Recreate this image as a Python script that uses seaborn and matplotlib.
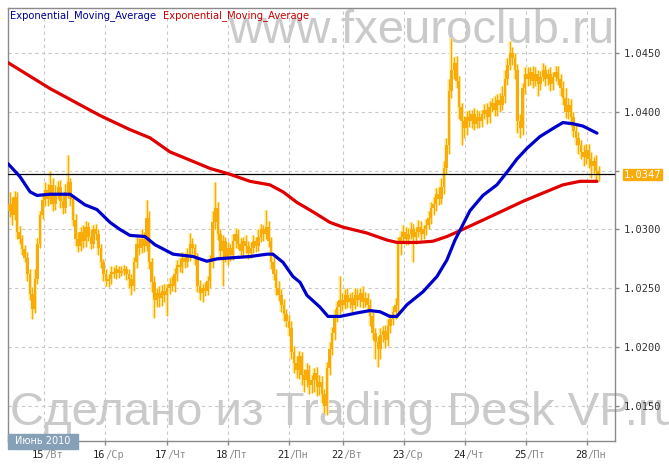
import numpy as np
import pandas as pd
import seaborn as sns
import matplotlib.pyplot as plt
from matplotlib.patches import Rectangle

# hourly closes, 14-28 June 2010 (one candle per hour)
close = [
    1.0322, 1.0312, 1.0328, 1.0298, 1.0292, 1.0283, 1.0276, 1.0262, 1.0245, 1.0232, 1.0258, 1.0288,
    1.0312, 1.0325, 1.0334, 1.0326, 1.0338, 1.0322, 1.0330, 1.0336, 1.0324, 1.0318, 1.0332, 1.0340,
    1.0326, 1.0308, 1.0292, 1.0286, 1.0298, 1.0290, 1.0302, 1.0294, 1.0288, 1.0300, 1.0296, 1.0284,
    1.0272, 1.0262, 1.0256, 1.0258, 1.0264, 1.0262, 1.0266, 1.0263, 1.0265, 1.0266, 1.0262, 1.0258,
    1.0252, 1.0272, 1.0288, 1.0284, 1.0292, 1.0286, 1.0310, 1.0272, 1.0255, 1.0240, 1.0246, 1.0242,
    1.0248, 1.0244, 1.0250, 1.0254, 1.0252, 1.0262, 1.0270, 1.0268, 1.0276, 1.0272, 1.0278, 1.0288,
    1.0284, 1.0276, 1.0252, 1.0246, 1.0250, 1.0248, 1.0256, 1.0272, 1.0306, 1.0318, 1.0296, 1.0282,
    1.0290, 1.0276, 1.0284, 1.0278, 1.0290, 1.0296, 1.0288, 1.0282, 1.0290, 1.0286, 1.0280, 1.0284,
    1.0290, 1.0286, 1.0294, 1.0300, 1.0296, 1.0302, 1.0290, 1.0272, 1.0262, 1.0250, 1.0244, 1.0236,
    1.0228, 1.0222, 1.0216, 1.0196, 1.0186, 1.0180, 1.0192, 1.0176, 1.0172, 1.0180, 1.0168, 1.0172,
    1.0178, 1.0166, 1.0170, 1.0160, 1.0150, 1.0182, 1.0198, 1.0212, 1.0226, 1.0234, 1.0240, 1.0236,
    1.0244, 1.0238, 1.0242, 1.0236, 1.0244, 1.0240, 1.0246, 1.0238, 1.0242, 1.0236, 1.0226, 1.0212,
    1.0204, 1.0198, 1.0210, 1.0214, 1.0206, 1.0218, 1.0224, 1.0230, 1.0236, 1.0288, 1.0294, 1.0298,
    1.0292, 1.0296, 1.0300, 1.0294, 1.0298, 1.0302, 1.0296, 1.0300, 1.0304, 1.0310, 1.0318, 1.0322,
    1.0330, 1.0326, 1.0336, 1.0352, 1.0372, 1.0418, 1.0436, 1.0442, 1.0426, 1.0404, 1.0392, 1.0386,
    1.0396, 1.0392, 1.0398, 1.0390, 1.0396, 1.0392, 1.0398, 1.0402, 1.0396, 1.0404, 1.0408, 1.0402,
    1.0410, 1.0406, 1.0414, 1.0428, 1.0440, 1.0450, 1.0446, 1.0436, 1.0392, 1.0386, 1.0420, 1.0432,
    1.0428, 1.0434, 1.0426, 1.0432, 1.0424, 1.0430, 1.0436, 1.0428, 1.0432, 1.0424, 1.0430, 1.0434,
    1.0428, 1.0420, 1.0412, 1.0400, 1.0406, 1.0396, 1.0384, 1.0378, 1.0372, 1.0366, 1.0362, 1.0368,
    1.0360, 1.0354, 1.0358, 1.0350, 1.0347,
]
first_open = 1.0316

# wick lengths in pips above / below the candle body
wick_up = [
    10, 6, 5, 4, 5, 3, 4, 5, 4, 6, 8, 5,
    4, 5, 6, 5, 12, 6, 8, 5, 6, 5, 7, 23,
    4, 3, 5, 6, 4, 6, 5, 4, 6, 4, 5, 4,
    4, 3, 4, 4, 5, 4, 4, 3, 4, 4, 3, 4,
    4, 5, 6, 5, 8, 6, 15, 6, 4, 5, 4, 6,
    5, 6, 4, 5, 6, 5, 4, 6, 5, 4, 6, 9,
    5, 4, 4, 5, 4, 5, 4, 6, 10, 22, 5, 4,
    5, 4, 5, 4, 6, 5, 4, 5, 4, 5, 4, 5,
    5, 4, 6, 5, 4, 15, 5, 4, 5, 4, 6, 5,
    5, 4, 5, 6, 5, 6, 5, 4, 5, 6, 5, 4,
    4, 5, 6, 5, 4, 5, 6, 5, 6, 5, 20, 6,
    5, 6, 4, 5, 6, 5, 4, 6, 5, 4, 5, 4,
    4, 5, 6, 4, 5, 6, 4, 5, 6, 6, 5, 6,
    4, 5, 6, 5, 4, 6, 5, 4, 5, 6, 5, 6,
    5, 6, 8, 6, 6, 10, 27, 5, 6, 5, 4, 5,
    5, 6, 4, 5, 6, 5, 4, 5, 6, 5, 4, 6,
    5, 6, 8, 8, 6, 10, 5, 4, 5, 6, 5, 6,
    6, 4, 5, 6, 4, 5, 6, 4, 5, 6, 4, 5,
    5, 4, 6, 8, 6, 5, 4, 6, 5, 4, 6, 5,
    5, 6, 4, 5, 4,
]
wick_dn = [
    5, 8, 4, 6, 4, 5, 4, 6, 5, 8, 3, 4,
    4, 3, 5, 6, 4, 6, 5, 4, 6, 5, 4, 5,
    6, 5, 6, 5, 4, 6, 5, 4, 5, 4, 5, 6,
    5, 6, 4, 5, 4, 3, 4, 4, 3, 4, 5, 8,
    8, 4, 5, 6, 4, 5, 4, 6, 8, 15, 6, 8,
    7, 6, 18, 5, 4, 5, 6, 4, 5, 5, 4, 5,
    5, 6, 5, 6, 8, 5, 4, 6, 5, 6, 5, 6,
    30, 4, 6, 5, 4, 6, 5, 4, 5, 6, 5, 4,
    4, 5, 4, 5, 6, 4, 5, 6, 5, 6, 5, 6,
    6, 5, 7, 6, 8, 6, 7, 8, 10, 6, 8, 7,
    10, 8, 7, 8, 6, 8, 6, 5, 6, 5, 6, 5,
    4, 5, 5, 6, 4, 5, 6, 5, 4, 6, 8, 6,
    14, 15, 8, 6, 7, 5, 6, 5, 6, 6, 10, 5,
    5, 5, 4, 22, 6, 4, 5, 4, 5, 4, 5, 6,
    6, 5, 4, 6, 5, 8, 6, 8, 6, 10, 20, 8,
    6, 5, 6, 5, 4, 6, 5, 4, 6, 5, 4, 5,
    5, 6, 4, 6, 5, 4, 6, 8, 10, 8, 6, 5,
    6, 5, 6, 4, 10, 5, 4, 6, 5, 6, 5, 4,
    5, 6, 6, 5, 6, 8, 5, 6, 8, 6, 8, 6,
    8, 10, 6, 8, 6,
]

# the two moving averages (hour, value)
ema_fast_h = [0, 4.7, 8.7, 11.4, 16.5, 24.4, 26.4, 30.3, 35, 40.2, 44.1, 48, 53.9, 57.9, 65,
              72.8, 78.3, 82.3, 88.6, 95.3, 102, 104.3, 108.3, 112.2, 115, 117.7, 122.8, 126,
              130.7, 137.4, 142.5, 146.5, 150.4, 153.1, 157.1, 163.4, 168.9, 172.8, 176, 181.9,
              187, 192.5, 196.9, 200.4, 204.3, 209.4, 214.6, 218.5, 222.4, 226.4, 231.9]
ema_fast = [1.0356, 1.0345, 1.0332, 1.0329, 1.0330, 1.0330, 1.0327, 1.0321, 1.0317, 1.0306,
            1.0300, 1.0295, 1.0294, 1.0287, 1.0279, 1.0277, 1.0273, 1.0275, 1.0276, 1.0277,
            1.0279, 1.0279, 1.0272, 1.0260, 1.0255, 1.0244, 1.0234, 1.0226, 1.0226, 1.0229,
            1.0231, 1.0230, 1.0226, 1.0226, 1.0236, 1.0247, 1.0260, 1.0274, 1.0291, 1.0316,
            1.0329, 1.0338, 1.0350, 1.0360, 1.0369, 1.0379, 1.0386, 1.0391, 1.0390, 1.0388,
            1.0382]

ema_slow_h = [0, 16.5, 36.2, 48, 55.9, 63.8, 71.7, 79.5, 87.4, 95.3, 103.1, 108.3, 113.8,
              120.1, 126.8, 131.9, 141.3, 149.2, 153.1, 161, 167.3, 172.8, 178, 187, 194.9,
              202.8, 210.6, 218.5, 225.2, 231.9]
ema_slow = [1.0442, 1.0420, 1.0397, 1.0385, 1.0378, 1.0366, 1.0359, 1.0352, 1.0347, 1.0341,
            1.0338, 1.0332, 1.0323, 1.0315, 1.0306, 1.0302, 1.0297, 1.0291, 1.0289, 1.0289,
            1.0290, 1.0294, 1.0299, 1.0308, 1.0316, 1.0324, 1.0331, 1.0338, 1.0341, 1.0341]

last_price = 1.0347
y_ticks = [1.0150, 1.0200, 1.0250, 1.0300, 1.0350, 1.0400, 1.0450]
y_labels = ['1.0150', '1.0200', '1.0250', '1.0300', '', '1.0400', '1.0450']

day_ticks = [14, 38, 62.5, 86.5, 110.5, 132, 156, 180, 204, 228]
day_num = ['15', '16', '17', '18', '21', '22', '23', '24', '25', '28']
day_name = ['Вт', 'Ср', 'Чт', 'Пт', 'Пн', 'Вт', 'Ср', 'Чт', 'Пт', 'Пн']

sns.set_style('white')
W, H = 669, 471
fig = plt.figure(figsize=(W / 100, H / 100), dpi=100)
ax = fig.add_axes([8 / W, 1 - 441 / H, 607 / W, 433 / H])

# watermarks (behind the data)
ax.text(228 / W, 1 - 43 / H, 'www.fxeuroclub.ru', transform=fig.transFigure,
        family='Liberation Sans', fontsize=34, color='#cacaca', ha='left',
        va='baseline', zorder=0.5, clip_on=False)
ax.text(10 / W, 1 - 425 / H, 'Сделано из Trading Desk VP.ru', transform=fig.transFigure,
        family='Liberation Sans', fontsize=34, color='#cacaca', ha='left',
        va='baseline', zorder=0.5, clip_on=False)

# candles
xs = np.arange(len(close)) + 0.6
closes = np.array(close)
opens = np.array([first_open] + close[:-1])
top = np.maximum(opens, closes)
bot = np.minimum(opens, closes)
high = top + np.array(wick_up) / 10000
low = bot - np.array(wick_dn) / 10000
body = np.maximum(top - bot, 0.00005)

halo = '#fff2b0'
orange = '#f9ab0a'
ax.vlines(xs, low, high, color=halo, lw=2.6, zorder=2)
ax.bar(xs, body + 0.0001, bottom=bot - 0.00005, width=1.5, color=halo, lw=0, zorder=2)
ax.vlines(xs, low, high, color=orange, lw=1.0, zorder=3)
ax.bar(xs, body, bottom=bot, width=1.0, color=orange, lw=0, zorder=3)

ax.axhline(last_price, color='black', lw=0.9, zorder=4)

fast_df = pd.DataFrame({'hour': ema_fast_h, 'value': ema_fast})
slow_df = pd.DataFrame({'hour': ema_slow_h, 'value': ema_slow})
sns.lineplot(data=slow_df, x='hour', y='value', color='#e00000', lw=2.3, ax=ax, zorder=5)
sns.lineplot(data=fast_df, x='hour', y='value', color='#0000cc', lw=2.3, ax=ax, zorder=6)

ax.set_xlim(0, 239)
ax.set_ylim(1.0120, 1.04885)
ax.set_xlabel('')
ax.set_ylabel('')

# axes frame and grid
for s in ax.spines.values():
    s.set_color('#8a8a8a')
    s.set_linewidth(1)
ax.set_yticks(y_ticks)
ax.set_yticklabels(y_labels)
ax.yaxis.tick_right()
ax.set_xticks(day_ticks)
ax.set_xticklabels([''] * len(day_ticks))
ax.tick_params(axis='y', right=True, length=3, width=1, color='#8a8a8a', pad=3,
               labelsize=7.5, labelcolor='#333333')
ax.tick_params(axis='x', bottom=True, length=3, width=1, color='#8a8a8a')
for lbl in ax.get_yticklabels():
    lbl.set_family('DejaVu Sans Mono')
ax.grid(True, color='#c8c8c8', lw=0.8, ls=(0, (3, 3)), zorder=1)
ax.set_axisbelow(True)

# day labels: number dark, weekday grey
for t, num, nm in zip(day_ticks, day_num, day_name):
    ax.annotate(num, (t, 0), xycoords=('data', 'axes fraction'), xytext=(0.5, -10),
                textcoords='offset points', ha='right', va='center',
                family='DejaVu Sans Mono', fontsize=7.5, color='#222222')
    ax.annotate('/' + nm, (t, 0), xycoords=('data', 'axes fraction'), xytext=(0.5, -10),
                textcoords='offset points', ha='left', va='center',
                family='DejaVu Sans Mono', fontsize=7.5, color='#8c8c8c')

# current price tag
fig.add_artist(Rectangle((623 / W, 1 - 180 / H), 39 / W, 11 / H,
                         transform=fig.transFigure, color='#f9ab0a', zorder=10))
fig.text(642.5 / W, 1 - 174.5 / H, f'{last_price:.4f}', ha='center', va='center',
         family='DejaVu Sans Mono', fontsize=7.5, color='white', zorder=11)

# month tag
fig.add_artist(Rectangle((8 / W, 1 - 449 / H), 70 / W, 15 / H,
                         transform=fig.transFigure, color='#86a0b8', zorder=10))
fig.text(43 / W, 1 - 441.5 / H, 'Июнь 2010', ha='center', va='center',
         family='DejaVu Sans', fontsize=7, color='white', zorder=11)

# indicator names
fig.text(10 / W, 1 - 16 / H, 'Exponential_Moving_Average', ha='left', va='center',
         family='DejaVu Sans', fontsize=7.2, color='#000099')
fig.text(163 / W, 1 - 16 / H, 'Exponential_Moving_Average', ha='left', va='center',
         family='DejaVu Sans', fontsize=7.2, color='#cc0000')

fig.savefig('out.png', dpi=100)
